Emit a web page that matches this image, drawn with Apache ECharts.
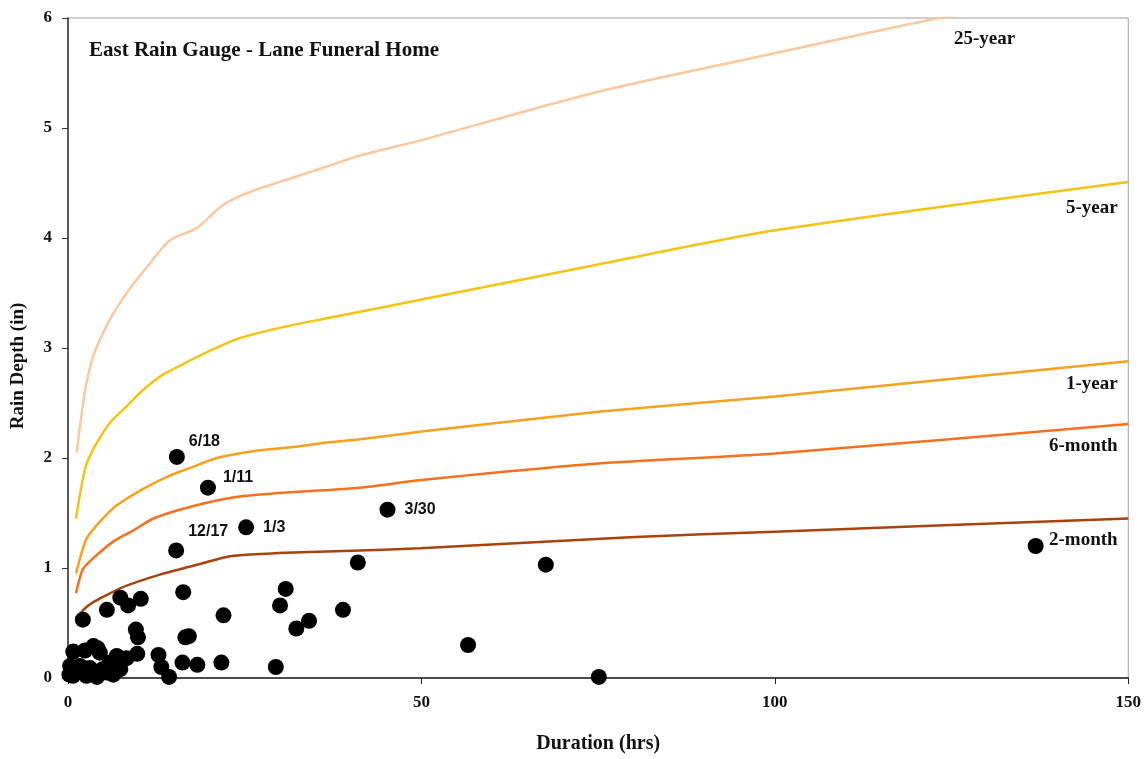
<!DOCTYPE html>
<html>
<head>
<meta charset="utf-8">
<script src="https://cdn.jsdelivr.net/npm/echarts@6/dist/echarts.min.js"></script>
<style>
html,body{margin:0;padding:0;background:#fff;}
#chart{width:1144px;height:759px;}
</style>
</head>
<body>
<div id="chart"></div>
<script>
// ---------- DATA ----------
const chartTitle = 'East Rain Gauge - Lane Funeral Home';
const xAxisName = 'Duration (hrs)';
const yAxisName = 'Rain Depth (in)';
const xTicks = [0, 50, 100, 150];
const yTicks = [0, 1, 2, 3, 4, 5, 6];

// frequency curves: [duration hrs, depth in]
const curve25yr = [[1.23,2.05],[1.94,2.41],[2.64,2.69],[3.58,2.93],[5.94,3.26],[8.3,3.50],[11.6,3.77],[14.4,3.98],[18.2,4.09],[21.5,4.28],[23.9,4.37],[27.1,4.45],[31.9,4.55],[36.6,4.65],[41.3,4.75],[50,4.89],[75,5.33],[100,5.68],[123.3,6.0],[150,6.3]];
const curve5yr = [[1.13,1.45],[2.4,1.90],[3.58,2.08],[5.94,2.32],[8.3,2.47],[10.65,2.62],[13.5,2.76],[17.7,2.90],[19.6,2.96],[23.4,3.07],[27.1,3.14],[31.9,3.21],[36.6,3.27],[41.3,3.33],[50,3.44],[75,3.76],[100,4.07],[150,4.51]];
const curve1yr = [[1.13,0.95],[1.7,1.09],[2.64,1.27],[4.5,1.42],[6.9,1.57],[10.65,1.72],[14.4,1.84],[17.7,1.92],[20.1,1.98],[22.4,2.02],[27.1,2.07],[31.9,2.10],[36.6,2.14],[41.3,2.17],[50,2.24],[75,2.42],[100,2.56],[150,2.88]];
const curve6mo = [[1.13,0.77],[2.1,0.99],[3.58,1.09],[6.4,1.24],[9.2,1.34],[12.1,1.45],[15.8,1.53],[20.1,1.60],[24.3,1.65],[31.9,1.69],[41.3,1.73],[50,1.80],[75,1.95],[100,2.04],[150,2.31]];
const curve2mo = [[1.13,0.52],[2.17,0.62],[3.58,0.69],[5.94,0.77],[8.3,0.84],[13.0,0.94],[17.7,1.02],[22.4,1.10],[25.3,1.12],[31.9,1.14],[41.3,1.16],[49.8,1.18],[79.5,1.28],[100,1.33],[150,1.45]];
const curveNames = ['25-year','5-year','1-year','6-month','2-month'];
const curveColors = ['#FCC89E','#F7C312','#F8A11E','#F5711E','#A8420E'];

// curve label anchors (right edge of text) [hrs, in]
const curveLabelX = [134.0, 148.5, 148.5, 148.5, 148.5];
const curveLabelY = [5.81, 4.27, 2.67, 2.11, 1.25];

// storm events [hrs, in]
const eventX = [0.75,3.6,2.4,4.5,1.7,0.3,0.7,2.6,4.9,5.9,6.9,8.3,9.8,7.4,4.1,6.4,0.2,3.1,5.5,4.2,
  2.1,5.5,7.4,8.5,10.3,16.3,22.0,9.6,9.9,17.1,16.6,12.8,13.2,14.3,16.2,18.3,21.7,
  41.0,30.8,30.0,38.9,34.1,32.3,29.4,67.6,56.6,75.1,136.9];
const eventY = [0.24,0.29,0.25,0.23,0.11,0.11,0.02,0.02,0.08,0.14,0.20,0.18,0.22,0.08,0.01,0.03,0.03,0.09,0.05,0.27,
  0.53,0.62,0.73,0.66,0.72,0.78,0.57,0.44,0.37,0.38,0.37,0.21,0.10,0.01,0.14,0.12,0.14,
  1.05,0.81,0.66,0.62,0.52,0.45,0.10,1.03,0.30,0.01,1.20];

// labeled storm events
const namedX = [15.4, 19.8, 25.2, 15.3, 45.2];
const namedY = [2.01, 1.73, 1.37, 1.16, 1.53];
const namedLabels = ['6/18','1/11','1/3','12/17','3/30'];

// ---------- CHART ----------
const serif = '"Liberation Serif", "Times New Roman", serif';
const sans = '"Liberation Sans", Arial, sans-serif';
const labelOffsets = {'6/18':[-5,-15],'1/11':[-2,-10],'1/3':[0,0],'12/17':[-5,-19],'3/30':[0,0]};

const curves = [curve25yr, curve5yr, curve1yr, curve6mo, curve2mo];
const series = curves.map((c, i) => ({
  name: curveNames[i],
  type: 'line',
  data: c,
  smooth: 0.25,
  showSymbol: false,
  symbol: 'none',
  clip: true,
  lineStyle: {color: curveColors[i], width: 2.5},
  z: 2
}));

series.push({
  name: 'curve labels',
  type: 'scatter',
  symbolSize: 0,
  itemStyle: {opacity: 1},
  data: curveLabelX.map((x, i) => ({value: [x, curveLabelY[i]], name: curveNames[i]})),
  label: {
    show: true, position: 'left', distance: 0, formatter: p => p.name,
    fontFamily: serif, fontWeight: 'bold', fontSize: 19, color: '#111'
  },
  silent: true,
  z: 5
});

series.push({
  name: 'events',
  type: 'scatter',
  symbol: 'circle',
  symbolSize: 16,
  itemStyle: {color: '#000', opacity: 1},
  data: eventX.map((x, i) => [x, eventY[i]]),
  z: 4
});

series.push({
  name: 'named events',
  type: 'scatter',
  symbol: 'circle',
  symbolSize: 16,
  itemStyle: {color: '#000', opacity: 1},
  data: namedX.map((x, i) => ({
    value: [x, namedY[i]],
    name: namedLabels[i],
    label: {offset: labelOffsets[namedLabels[i]]}
  })),
  label: {
    show: true, position: 'right', distance: 9, formatter: p => p.name,
    fontFamily: sans, fontWeight: 'bold', fontSize: 16, color: '#111'
  },
  z: 4
});

const chart = echarts.init(document.getElementById('chart'), null, {renderer: 'canvas'});
chart.setOption({
  animation: false,
  backgroundColor: '#fff',
  grid: {left: 68, top: 18, right: 15, bottom: 78, show: true, borderColor: '#A0A0A0', borderWidth: 1, backgroundColor: 'transparent'},
  xAxis: {
    type: 'value', min: xTicks[0], max: xTicks[xTicks.length - 1], interval: 50,
    name: xAxisName, nameLocation: 'middle', nameGap: 56,
    nameTextStyle: {fontFamily: serif, fontWeight: 'bold', fontSize: 20, color: '#111'},
    axisLine: {lineStyle: {color: '#222', width: 1.5}},
    axisTick: {show: true, inside: false, length: 6, lineStyle: {color: '#222'}},
    axisLabel: {margin: 16, fontFamily: serif, fontWeight: 'bold', fontSize: 17, color: '#111'},
    splitLine: {show: false}
  },
  yAxis: {
    type: 'value', min: yTicks[0], max: yTicks[yTicks.length - 1], interval: 1,
    axisLine: {show: true, lineStyle: {color: '#333', width: 1.5}},
    axisTick: {show: true, inside: false, length: 6, lineStyle: {color: '#333'}},
    axisLabel: {margin: 16, fontFamily: serif, fontWeight: 'bold', fontSize: 17, color: '#111'},
    splitLine: {show: false}
  },
  graphic: [
    {type: 'text', left: 89, top: 40, style: {text: chartTitle, font: 'bold 21px ' + serif, fill: '#111'}, z: 10},
    {type: 'text', x: 18, y: 366, rotation: Math.PI / 2,
     style: {text: yAxisName, font: 'bold 19px ' + serif, fill: '#111', textAlign: 'center', textVerticalAlign: 'middle'}, z: 10}
  ],
  series: series
});
</script>
</body>
</html>
